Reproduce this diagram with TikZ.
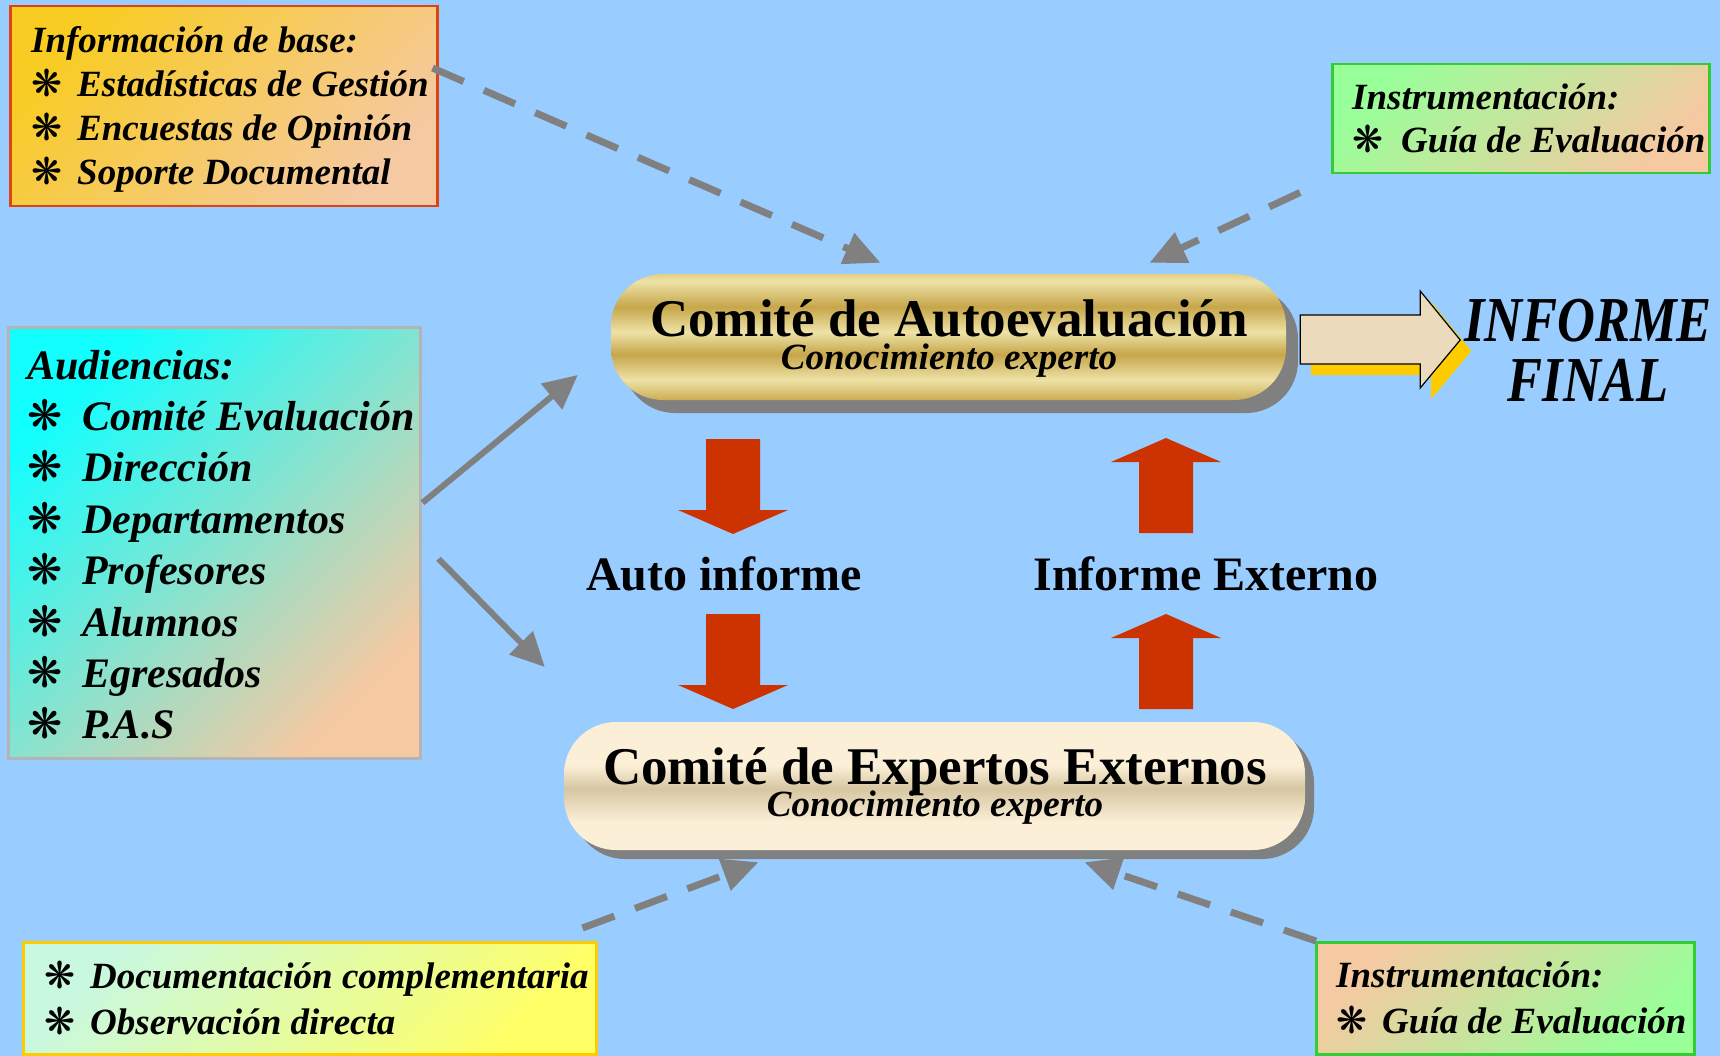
\documentclass[tikz,border=0pt]{standalone}
\usepackage{fontspec}
\setmainfont{Liberation Serif}
\newfontfamily\dingfont{DejaVu Sans}
\newfontfamily\narrowfont[FakeStretch=0.82]{Liberation Serif}
\usetikzlibrary{arrows.meta,shadows}

\definecolor{slidebg}{HTML}{99CCFF}
\definecolor{arrowgray}{HTML}{808080}
\definecolor{blockred}{HTML}{CC3300}
\definecolor{infoedge}{HTML}{DD4411}
\definecolor{infotop}{HTML}{F8CC22}
\definecolor{peach}{HTML}{F5C9A2}
\definecolor{mintgreen}{HTML}{99FF99}
\definecolor{boxgreen}{HTML}{33CC33}
\definecolor{audtop}{HTML}{11FFFF}
\definecolor{audedge}{HTML}{B4B4B4}
\definecolor{docstop}{HTML}{C8F8E0}
\definecolor{docsbot}{HTML}{FFFF66}
\definecolor{docsedge}{HTML}{FFCC00}
\definecolor{goldlt}{HTML}{EEE2A6}
\definecolor{golddk}{HTML}{C6A64A}
\definecolor{creamlt}{HTML}{FBEFD7}
\definecolor{creamdk}{HTML}{D6C6A2}
\definecolor{parchment}{HTML}{EBDABC}
\definecolor{arrowgold}{HTML}{FFCC00}
\definecolor{shadowgray}{HTML}{808080}

\pgfdeclareverticalshading{goldbands}{100bp}{color(0bp)=(goldlt); color(7bp)=(golddk); color(15bp)=(goldlt); color(24bp)=(golddk); color(33bp)=(goldlt); color(43bp)=(golddk); color(52bp)=(goldlt); color(62bp)=(golddk); color(72bp)=(goldlt); color(82bp)=(golddk); color(91bp)=(goldlt); color(100bp)=(goldlt)}
\pgfdeclareverticalshading{creamband}{100bp}{color(0bp)=(creamlt); color(36bp)=(creamlt); color(49bp)=(creamdk); color(58bp)=(creamlt); color(100bp)=(creamlt)}

\newcommand\starbul[1][46pt]{\makebox[#1][l]{\dingfont\upshape\mdseries\char"274B}}

\begin{document}
\begin{tikzpicture}[x=1pt,y=-1pt,
  textbox/.style={rectangle, line width=2.5pt, anchor=north west, inner sep=0pt},
  boxtext/.style 2 args={anchor=west, align=left, inner sep=0pt,
    font=\fontsize{#1}{#2}\selectfont\bfseries\itshape},
  grad/.style 2 args={top color=#1, bottom color=#2, shading angle=45},
  capsule/.style={rectangle, rounded corners=52pt, shade, inner sep=0pt},
  captitle/.style={anchor=base, font=\fontsize{53}{53}\selectfont\bfseries},
  capsub/.style={anchor=base, font=\fontsize{37}{37}\selectfont\bfseries\itshape},
  midlabel/.style={anchor=base, font=\fontsize{48}{48}\selectfont\bfseries},
  solidarrow/.style={draw=arrowgray, line width=6pt, -{Triangle[length=34pt,width=32pt]}},
  dasharrow/.style={draw=arrowgray, line width=7pt, dash pattern=on 34pt off 22pt,
    -{Triangle[length=36pt,width=32pt]}},
  downblock/.pic={\fill[blockred] (-27,0) -- (27,0) -- (27,71) -- (55,71) -- (0,95)
    -- (-55,71) -- (-27,71) -- cycle;},
  upblock/.pic={\fill[blockred] (0,0) -- (55,24) -- (27,24) -- (27,95) -- (-27,95)
    -- (-27,24) -- (-55,24) -- cycle;}]

\useasboundingbox (0,0) rectangle (1720,1056);
\fill[slidebg] (0,0) rectangle (1720,1056);

% text boxes
\node[textbox, draw=infoedge, grad={infotop}{peach}, minimum width=427pt, minimum height=200pt] (info) at (9,5) {};
\node[boxtext={37}{44}] (infotext) at ([xshift=22pt,yshift=-3pt]info.west)
  {Información de base:\\ \starbul Estadísticas de Gestión\\ \starbul Encuestas de Opinión\\ \starbul Soporte Documental};
\node[textbox, draw=boxgreen, grad={mintgreen}{peach}, minimum width=377pt, minimum height=109pt] (instrtop) at (1331,63) {};
\node[boxtext={37}{43}] (instrtoptext) at ([xshift=21pt]instrtop.west)
  {Instrumentación:\\ \starbul[49pt]Guía de Evaluación};
\node[textbox, draw=audedge, grad={audtop}{peach}, minimum width=412pt, minimum height=431pt] (aud) at (7,326) {};
\node[boxtext={42}{51.4}] (audtext) at ([xshift=20pt,yshift=-2pt]aud.west)
  {Audiencias:\\ \starbul[55pt]Comité Evaluación\\ \starbul[55pt]Dirección\\ \starbul[55pt]Departamentos\\
   \starbul[55pt]Profesores\\ \starbul[55pt]Alumnos\\ \starbul[55pt]Egresados\\ \starbul[55pt]P.A.S};
\node[textbox, draw=docsedge, grad={docstop}{docsbot}, minimum width=573pt, minimum height=112pt] (docs) at (22,941) {};
\node[boxtext={37}{46}] (docstext) at ([xshift=22pt]docs.west)
  {\starbul Documentación complementaria\\ \starbul Observación directa};
\node[textbox, draw=boxgreen, grad={peach}{mintgreen}, minimum width=378pt, minimum height=112pt] (instrbot) at (1315,941) {};
\node[boxtext={37}{46}] (instrbottext) at ([xshift=21pt]instrbot.west)
  {Instrumentación:\\ \starbul Guía de Evaluación};

% committees
\node[capsule, shading=goldbands, minimum width=675pt, minimum height=126pt,
  drop shadow={shadow xshift=12pt, shadow yshift=-13pt, fill=shadowgray, opacity=1}] (autoeval) at (948.5,337) {};
\node[captitle] (autoevaltitle) at (949,336) {Comité de Autoevaluación};
\node[capsub] (autoevalsub) at (949,369) {Conocimiento experto};

\node[capsule, shading=creamband, minimum width=741pt, minimum height=128pt,
  drop shadow={shadow xshift=9pt, shadow yshift=-9pt, fill=shadowgray, opacity=1}] (expertos) at (934.5,786) {};
\node[captitle] (expertostitle) at (935,784) {Comité de Expertos Externos};
\node[capsub] (expertossub) at (935,816) {Conocimiento experto};

% reports between committees
\pic at (733,439) {downblock};
\pic at (733,614) {downblock};
\pic at (1166,438) {upblock};
\pic at (1166,614) {upblock};
\node[midlabel] (autoinf) at (724,590) {Auto informe};
\node[midlabel] (infext) at (1206,590) {Informe Externo};

% final report
\draw[line width=1.2pt, fill=parchment,
  drop shadow={shadow xshift=11pt, shadow yshift=-11pt, fill=arrowgold, opacity=1}]
  ([shift={(14,-22)}]autoeval.east) -- ++(120,0) -- ++(0,-24) -- ++(40,49) -- ++(-40,48)
  -- ++(0,-24) -- ++(-120,0) -- cycle;
\node[align=center, font=\narrowfont\fontsize{64}{60}\selectfont\bfseries\itshape] (final) at (1588,350) {INFORME\\FINAL};

% connectors
\draw[dasharrow] ([shift={(-6,63)}]info.north east) -- ([shift={(-68,-11)}]autoeval.north);
\draw[dasharrow] ([shift={(-31,18)}]instrtop.south west) -- ([shift={(201,-11)}]autoeval.north);
\draw[dasharrow] ([shift={(-15,-13)}]docs.north east) -- ([shift={(-176,12)}]expertos.south);
\draw[dasharrow] ([shift={(1,0)}]instrbot.north west) -- ([shift={(150,12)}]expertos.south);
\draw[solidarrow] ([shift={(1,-40)}]aud.east) -- ([shift={(-33,38)}]autoeval.west);
\draw[solidarrow] ([shift={(17,16)}]aud.east) -- ([shift={(-19,-119)}]expertos.west);
\end{tikzpicture}
\end{document}
